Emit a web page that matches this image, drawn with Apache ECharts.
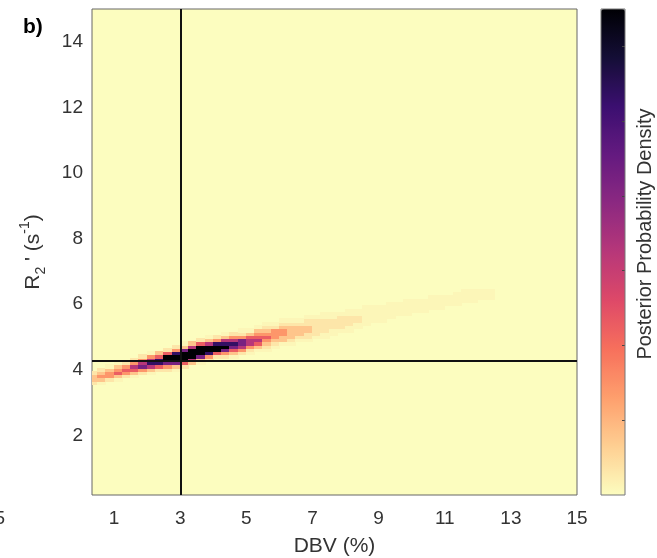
<!DOCTYPE html>
<html>
<head>
<meta charset="utf-8">
<script src="https://cdn.jsdelivr.net/npm/echarts@6/dist/echarts.min.js"></script>
<style>
  html, body { margin: 0; padding: 0; background: #fff; }
  #chart { width: 657px; height: 558px; }
</style>
</head>
<body>
<div id="chart"></div>
<script>
// DBV column centres (%) of the density image
const dbvCols = [
  0.375, 0.625, 0.875, 1.125, 1.375, 1.625, 1.875, 2.125, 2.375, 2.625,
  2.875, 3.125, 3.375, 3.625, 3.875, 4.125, 4.375, 4.625, 4.875, 5.125,
  5.375, 5.625, 5.875, 6.125, 6.375, 6.625, 6.875, 7.125, 7.375, 7.625,
  7.875, 8.125, 8.375, 8.625, 8.875, 9.125, 9.375, 9.625, 9.875, 10.125,
  10.375, 10.625, 10.875, 11.125, 11.375, 11.625, 11.875, 12.125, 12.375
];
// lowest R2' row (s^-1) with non-zero density in each column
const r2Start = [
  3.6, 3.6, 3.7, 3.7, 3.8, 3.8, 3.9, 3.9, 4.0, 4.0,
  4.0, 4.1, 4.2, 4.2, 4.3, 4.4, 4.4, 4.4, 4.5, 4.5,
  4.6, 4.6, 4.7, 4.8, 4.8, 4.9, 4.9, 5.0, 5.0, 5.1,
  5.2, 5.2, 5.3, 5.4, 5.5, 5.5, 5.6, 5.7, 5.7, 5.8,
  5.8, 5.9, 5.9, 6.0, 6.0, 6.1, 6.1, 6.2, 6.2
];
// density level per 0.1 s^-1 row, going up from r2Start (0-9)
const densityCols = [
  "2332", "13432", "24431", "135431", "24542", "135642", "247642", "1368641", "258853", "2479952",
  "13799842", "25999731", "3699963", "13799952", "24899631", "2599842", "24798631", "13578642", "24677421", "12466531",
  "13565431", "123454321", "12344421", "13344321", "12333321", "1233321", "12233221", "1222221", "11222211", "1122211",
  "122221", "1122211", "112211", "111111", "11111", "11111", "11111", "1111", "11111", "1111",
  "1111", "1111", "1111", "111", "1111", "1111", "1111", "111", "111"
];
// level -> fraction of the colour-bar maximum
const levelValues = [0, 0.015, 0.05, 0.12, 0.22, 0.35, 0.5, 0.65, 0.82, 1.0];
const densityMax = 3.25;

const xTicks = [1, 3, 5, 7, 9, 11, 13, 15];
const yTicks = [2, 4, 6, 8, 10, 12, 14];
const colorbarTicks = [0.5, 1, 1.5, 2, 2.5, 3];
const crossDBV = 3;
const crossR2 = 4.27;

const magma = ['#fcfdbf', '#fecf92', '#fe9f6d', '#f7705c', '#de4968', '#b73779',
               '#8c2981', '#641a80', '#3b0f70', '#140e36', '#000004'];

const FONT = '"Liberation Sans", Arial, Helvetica, sans-serif';
const cellW = 0.25, cellH = 0.1;

const cells = [];
dbvCols.forEach((x, i) => {
  const s = densityCols[i];
  for (let k = 0; k < s.length; k++) {
    const lvl = +s[k];
    if (!lvl) continue;
    cells.push([x, +(r2Start[i] + k * cellH).toFixed(2), levelValues[lvl] * densityMax]);
  }
});

function renderCell(params, api) {
  const x = api.value(0), y = api.value(1);
  const a = api.coord([x - cellW / 2, y + cellH / 2]);
  const b = api.coord([x + cellW / 2, y - cellH / 2]);
  const cs = params.coordSys;
  const rect = echarts.graphic.clipRectByRect(
    { x: Math.floor(a[0]), y: Math.floor(a[1]),
      width: Math.ceil(b[0]) - Math.floor(a[0]), height: Math.ceil(b[1]) - Math.floor(a[1]) },
    { x: cs.x, y: cs.y, width: cs.width, height: cs.height });
  if (!rect) return null;
  return { type: 'rect', shape: rect, style: { fill: api.visual('color') } };
}

const chart = echarts.init(document.getElementById('chart'));

const option = {
  animation: false,
  backgroundColor: '#fff',
  textStyle: { fontFamily: FONT },
  grid: [
    { left: 92, right: 80, top: 9, bottom: 63, show: true, outerBoundsMode: 'none',
      backgroundColor: '#fcfdbf', borderColor: '#666', borderWidth: 1 },
    { left: 601, top: 9, width: 24, height: 486, outerBoundsMode: 'none' }
  ],
  xAxis: [
    {
      type: 'value', gridIndex: 0, min: 0.33, max: 15,
      axisLine: { show: false }, axisTick: { show: false }, splitLine: { show: false },
      axisLabel: { customValues: xTicks, fontSize: 19, color: '#333', margin: 14, fontFamily: FONT },
      name: 'DBV (%)', nameLocation: 'middle', nameGap: 41,
      nameTextStyle: { fontSize: 21, color: '#333', fontFamily: FONT }
    },
    { type: 'value', gridIndex: 1, show: false, min: 0, max: 1 }
  ],
  yAxis: [
    {
      type: 'value', gridIndex: 0, min: 0.18, max: 15,
      axisLine: { show: false }, axisTick: { show: false }, splitLine: { show: false },
      axisLabel: { customValues: yTicks, fontSize: 19, color: '#333', margin: 9, fontFamily: FONT },
      name: "{n|R}{s|2}{n| ' (s}{p|-1}{n|)}",
      nameLocation: 'middle', nameGap: 44, nameRotate: 90,
      nameTextStyle: {
        color: '#333', fontFamily: FONT,
        rich: {
          n: { fontSize: 21, lineHeight: 30, verticalAlign: 'middle', color: '#333', fontFamily: FONT },
          s: { fontSize: 14, lineHeight: 30, verticalAlign: 'bottom', color: '#333', fontFamily: FONT },
          p: { fontSize: 14, lineHeight: 30, verticalAlign: 'top', color: '#333', fontFamily: FONT }
        }
      }
    },
    {
      type: 'value', gridIndex: 1, position: 'right', min: 0, max: densityMax, z: 10,
      axisLine: { show: false, onZero: false }, splitLine: { show: false }, axisLabel: { show: false },
      axisTick: { show: true, inside: true, length: 3, customValues: colorbarTicks,
                  lineStyle: { color: '#444', width: 1 } }
    }
  ],
  visualMap: {
    type: 'continuous', min: 0, max: densityMax, seriesIndex: 0, dimension: 2,
    inRange: { color: magma }, calculable: false, hoverLink: false,
    left: 601, top: 9, itemWidth: 24, itemHeight: 486, padding: 0, text: null,
    showLabel: false, orient: 'vertical'
  },
  series: [
    {
      type: 'custom', xAxisIndex: 0, yAxisIndex: 0, renderItem: renderCell,
      encode: { x: 0, y: 1 }, data: cells, silent: true, clip: true, z: 2
    },
    {
      type: 'line', xAxisIndex: 0, yAxisIndex: 0, data: [], silent: true, z: 3,
      markLine: {
        silent: true, symbol: 'none', animation: false,
        label: { show: false },
        lineStyle: { color: '#111', width: 2, type: 'solid' },
        data: [{ xAxis: crossDBV }, { yAxis: crossR2 }]
      }
    }
  ],
  graphic: [
    { type: 'rect', z: 100, silent: true,
      shape: { x: 601, y: 9, width: 24, height: 486 },
      style: { fill: 'none', stroke: '#777', lineWidth: 1 } },
    { type: 'text', x: 23, y: 27, z: 100, silent: true,
      style: { text: 'b)', fill: '#000', font: 'bold 21px ' + FONT, verticalAlign: 'middle' } },
    { type: 'text', x: 5, y: 519, z: 100, silent: true,
      style: { text: '5', fill: '#333', font: '19px ' + FONT, align: 'right', verticalAlign: 'middle' } },
    { type: 'text', x: 645, y: 234, rotation: Math.PI / 2, z: 100, silent: true,
      style: { text: 'Posterior Probability Density', fill: '#333', font: '20px ' + FONT,
               align: 'center', verticalAlign: 'middle' } }
  ]
};

chart.setOption(option);
</script>
</body>
</html>
